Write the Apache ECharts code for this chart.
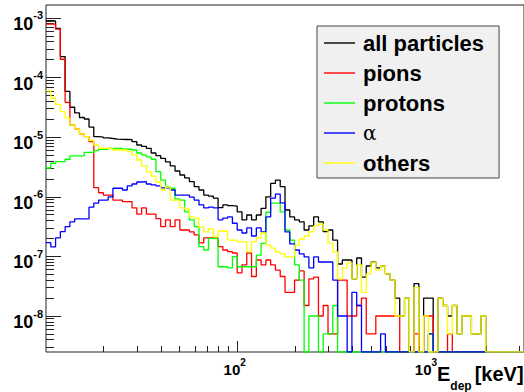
<!DOCTYPE html>
<html>
<head>
<meta charset="utf-8">
<script src="https://cdn.jsdelivr.net/npm/echarts@6/dist/echarts.min.js"></script>
<style>
  html, body { margin: 0; padding: 0; background: #ffffff; }
  #chart { width: 524px; height: 392px; }
</style>
</head>
<body>
<div id="chart"></div>
<script>
// Deposited-energy spectra: 100 logarithmic bins between 10 keV and 10^3.5 keV
const LOG_E_LO = 1;
const LOG_E_HI = 3.5;
const N_BINS = 100;
const binEdges = [];
for (let k = 0; k <= N_BINS; k++) {
  binEdges.push(Math.pow(10, LOG_E_LO + (LOG_E_HI - LOG_E_LO) * k / N_BINS));
}

// Bin contents per particle class (0 = empty bin)
const allParticles = [
  8.9e-4, 8.9e-4, 6.7e-4, 2.25e-4, 5.85e-5, 3.18e-5, 2.55e-5, 2.14e-5, 2.02e-5, 1.48e-5,
  1.02e-5, 1.0e-5, 9.7e-6, 9.5e-6, 9.3e-6, 9.2e-6, 9.15e-6, 9.1e-6, 8.4e-6, 7.4e-6,
  7.0e-6, 6.5e-6, 5.43e-6, 4.9e-6, 4.4e-6, 3.84e-6, 3.3e-6, 2.71e-6, 2.32e-6, 2.07e-6,
  1.79e-6, 1.48e-6, 1.3e-6, 1.07e-6, 1.03e-6, 9.5e-7, 6.6e-7, 7.3e-7, 7.1e-7, 7.0e-7,
  5.6e-7, 4.1e-7, 4.95e-7, 4.1e-7, 4.95e-7, 6.4e-7, 1.0e-6, 1.68e-6, 1.91e-6, 1.48e-6,
  6.0e-7, 4.6e-7, 4.1e-7, 3.8e-7, 2.77e-7, 3.24e-7, 4.6e-7, 3.8e-7, 2.6e-7, 2.77e-7,
  1.88e-7, 7.45e-8, 8.7e-8, 8.7e-8, 4.2e-8, 9.4e-8, 4.5e-8, 6.9e-8, 8.05e-8, 6.4e-8,
  6.9e-8, 5.1e-8, 4.0e-8, 2.0e-8, 1.0e-8, 2.0e-8, 0, 3.5e-8, 0, 2.0e-8,
  2.0e-8, 0, 2.0e-8, 1.5e-8, 1.0e-8, 1.5e-8, 5e-9, 1.0e-8, 1.0e-8, 5e-9,
  5e-9, 1.0e-8, 0, 0, 0, 0, 0, 0, 0, 0
];
const pions = [
  7.9e-4, 7.9e-4, 6.5e-4, 2.03e-4, 3.85e-5, 1.6e-5, 1.37e-5, 1.13e-5, 1.02e-5, 8.4e-6,
  1.42e-6, 1.17e-6, 1.07e-6, 1.07e-6, 8.8e-7, 8.8e-7, 8.3e-7, 8.3e-7, 6.5e-7, 5.1e-7,
  6.5e-7, 5.1e-7, 5.1e-7, 4.3e-7, 3.15e-7, 4.1e-7, 3.15e-7, 4.1e-7, 2.77e-7, 2.77e-7,
  2.57e-7, 2.29e-7, 1.68e-7, 2.04e-7, 2.04e-7, 2.04e-7, 1.46e-7, 1.28e-7, 1.2e-7, 1.14e-7,
  5.3e-8, 7.2e-8, 1.14e-7, 4.6e-8, 8.7e-8, 7.2e-8, 8.7e-8, 7.2e-8, 5.9e-8, 4.6e-8,
  2.5e-8, 2.5e-8, 4.0e-8, 5.7e-8, 1.5e-8, 4.2e-8, 4.5e-8, 1.0e-8, 1.5e-8, 5e-9,
  5e-9, 4.0e-8, 4.0e-8, 1.0e-8, 1.0e-8, 1.5e-8, 2.0e-8, 5e-9, 5e-9, 1.0e-8,
  1.0e-8, 1.0e-8, 1.0e-8, 1.0e-8, 0, 0, 0, 5e-9, 0, 1.0e-8,
  1.0e-8, 0, 0, 0, 5e-9, 0, 0, 0, 0, 0,
  0, 0, 0, 0, 0, 0, 0, 0, 0, 0
];
const protons = [
  3.04e-6, 3.65e-6, 3.88e-6, 3.88e-6, 4.26e-6, 4.84e-6, 4.84e-6, 4.84e-6, 5.58e-6, 5.58e-6,
  5.93e-6, 6.27e-6, 6.27e-6, 6.5e-6, 6.5e-6, 6.5e-6, 6.27e-6, 6.27e-6, 6.1e-6, 5.43e-6,
  5.03e-6, 4.66e-6, 4.26e-6, 2.64e-6, 1.91e-6, 1.48e-6, 1.39e-6, 9.2e-7, 8.8e-7, 5.6e-7,
  4.1e-7, 3.15e-7, 1.46e-7, 1.28e-7, 2.0e-7, 2.0e-7, 6.7e-8, 6.7e-8, 6.4e-8, 9.9e-8,
  6.7e-8, 6.7e-8, 6.7e-8, 6.7e-8, 1.05e-7, 1.66e-7, 5.5e-7, 7.8e-7, 7.8e-7, 5.6e-7,
  2.77e-7, 1.88e-7, 7.2e-8, 4.0e-8, 0, 1.0e-8, 1.0e-8, 0, 5e-9, 5e-9,
  1.5e-8, 0, 0, 0, 0, 0, 0, 0, 0, 0,
  0, 0, 0, 0, 0, 0, 0, 0, 0, 0,
  5e-9, 0, 0, 0, 0, 0, 0, 0, 0, 0,
  0, 0, 0, 0, 0, 0, 0, 0, 0, 0
];
const alphas = [
  1.7e-7, 1.44e-7, 2.04e-7, 2.6e-7, 3.15e-7, 3.8e-7, 4.25e-7, 4.25e-7, 4.25e-7, 6.7e-7,
  7.8e-7, 8.8e-7, 8.8e-7, 1.0e-6, 1.39e-6, 1.39e-6, 1.3e-6, 1.52e-6, 1.64e-6, 1.77e-6,
  1.79e-6, 1.64e-6, 1.58e-6, 1.52e-6, 1.41e-6, 1.41e-6, 1.3e-6, 1.07e-6, 1.07e-6, 1.07e-6,
  9.9e-7, 8.8e-7, 7.3e-7, 6.5e-7, 6.7e-7, 6.5e-7, 4.1e-7, 4.4e-7, 4.6e-7, 3.6e-7,
  2.77e-7, 2.47e-7, 3.0e-7, 2.2e-7, 3.0e-7, 2.57e-7, 4.6e-7, 9.5e-7, 1.11e-6, 7.9e-7,
  2.57e-7, 1.62e-7, 1.28e-7, 1.1e-7, 9.8e-8, 6.4e-8, 9.8e-8, 8.05e-8, 8.05e-8, 8.05e-8,
  4.0e-8, 1.0e-8, 1.0e-8, 0, 2.5e-8, 1.5e-8, 0, 0, 0, 0,
  5e-9, 0, 0, 0, 0, 0, 0, 0, 0, 0,
  5e-9, 0, 0, 0, 0, 0, 0, 0, 0, 0,
  0, 0, 0, 0, 0, 0, 0, 0, 0, 0
];
const others = [
  5.96e-5, 4.5e-5, 3.54e-5, 2.68e-5, 2.08e-5, 1.6e-5, 1.37e-5, 1.13e-5, 1.02e-5, 8.8e-6,
  7.4e-6, 6.5e-6, 6.5e-6, 6.34e-6, 6.1e-6, 6.1e-6, 6.1e-6, 5.71e-6, 5.03e-6, 4.14e-6,
  3.29e-6, 2.61e-6, 2.23e-6, 1.77e-6, 1.3e-6, 1.46e-6, 8.8e-7, 8.8e-7, 6.5e-7, 6.2e-7,
  4.6e-7, 4.4e-7, 3.1e-7, 2.57e-7, 2.9e-7, 2.12e-7, 2.67e-7, 2.67e-7, 1.88e-7, 1.88e-7,
  1.75e-7, 1.75e-7, 1.19e-7, 1.77e-7, 2.04e-7, 2.47e-7, 1.55e-7, 1.38e-7, 1.19e-7, 1.1e-7,
  9.8e-8, 9.8e-8, 1.55e-7, 1.96e-7, 2.2e-7, 2.57e-7, 3.24e-7, 3.5e-7, 2.77e-7, 1.68e-7,
  1.19e-7, 4.2e-8, 6.4e-8, 7.8e-8, 4.2e-8, 7.2e-8, 2.5e-8, 5.1e-8, 8.0e-8, 5.9e-8,
  6.9e-8, 5.1e-8, 4.0e-8, 1.0e-8, 1.0e-8, 2.0e-8, 0, 3.0e-8, 0, 1.0e-8,
  0, 0, 2.0e-8, 1.5e-8, 5e-9, 1.5e-8, 5e-9, 1.0e-8, 1.0e-8, 5e-9,
  5e-9, 1.0e-8, 0, 0, 0, 0, 0, 0, 0, 0
];

const seriesNames = ['all particles', 'pions', 'protons', '\u03b1', 'others'];
const seriesColors = ['#000000', '#ff0000', '#00ff00', '#0000ff', '#ffff00'];
const seriesValues = [allParticles, pions, protons, alphas, others];

// Axis ranges
const E_MIN = 10;
const E_MAX = Math.pow(10, 3.5);
const Y_MIN = 2.49e-9;
const Y_MAX = 1.65e-3;

// Tick positions: decades get long ticks, 2..9 within each decade short ones
const xMajorTicks = [100, 1000];
const yMajorTicks = [1e-8, 1e-7, 1e-6, 1e-5, 1e-4, 1e-3];
function minorTicks(lo, hi, expLo, expHi) {
  const out = [];
  for (let e = expLo; e <= expHi; e++) {
    for (let m = 2; m <= 9; m++) {
      const v = m * Math.pow(10, e);
      if (v > lo && v < hi) out.push(v);
    }
  }
  return out;
}
const xMinorTicks = minorTicks(E_MIN, E_MAX, 1, 3);
const yMinorTicks = minorTicks(Y_MIN, Y_MAX, -9, -3);

// Histogram outline: value of bin k held from its lower edge to the next edge
function stepData(values) {
  const pts = values.map((v, k) => [binEdges[k], v > 0 ? v : Y_MIN]);
  const last = values[values.length - 1];
  pts.push([binEdges[N_BINS], last > 0 ? last : Y_MIN]);
  return pts;
}

const FONT = 'Liberation Sans, Arial, Helvetica, sans-serif';
function powerRich(size, supSize) {
  return {
    b: { fontFamily: FONT, fontWeight: 'bold', fontSize: size, color: '#000', lineHeight: size + 5, verticalAlign: 'bottom' },
    s: { fontFamily: FONT, fontWeight: 'bold', fontSize: supSize, color: '#000', lineHeight: supSize, verticalAlign: 'top' }
  };
}
function powerLabel(v) {
  return '{b|10}{s|' + Math.round(Math.log10(v)) + '}';
}

const chart = echarts.init(document.getElementById('chart'), null, { renderer: 'svg' });

chart.setOption({
  animation: false,
  backgroundColor: '#ffffff',
  grid: {
    left: 46, top: 5, right: -2, bottom: 40,
    show: true, borderColor: '#222', borderWidth: 1, backgroundColor: 'transparent'
  },
  xAxis: [
    {
      type: 'log', logBase: 10, min: E_MIN, max: E_MAX, position: 'bottom',
      axisLine: { show: false },
      splitLine: { show: false },
      axisTick: { show: true, inside: true, length: 11, customValues: xMajorTicks,
                  lineStyle: { color: '#222', width: 1 } },
      axisLabel: { show: true, margin: 5, padding: [0, 0, 0, -5], customValues: xMajorTicks,
                   formatter: powerLabel, rich: powerRich(15, 10) }
    },
    {
      type: 'log', logBase: 10, min: E_MIN, max: E_MAX, position: 'bottom',
      axisLine: { show: false },
      splitLine: { show: false },
      axisTick: { show: true, inside: true, length: 6, customValues: xMinorTicks,
                  lineStyle: { color: '#222', width: 1 } },
      axisLabel: { show: false }
    }
  ],
  yAxis: [
    {
      type: 'log', logBase: 10, min: Y_MIN, max: Y_MAX, position: 'left',
      axisLine: { show: false },
      splitLine: { show: false },
      axisTick: { show: true, inside: true, length: 15, customValues: yMajorTicks,
                  lineStyle: { color: '#222', width: 1 } },
      axisLabel: { show: true, margin: 3, padding: [7, 0, 0, 0], customValues: yMajorTicks,
                   formatter: powerLabel, rich: powerRich(18, 11) }
    },
    {
      type: 'log', logBase: 10, min: Y_MIN, max: Y_MAX, position: 'left',
      axisLine: { show: false },
      splitLine: { show: false },
      axisTick: { show: true, inside: true, length: 8, customValues: yMinorTicks,
                  lineStyle: { color: '#222', width: 1 } },
      axisLabel: { show: false }
    }
  ],
  legend: {
    orient: 'vertical',
    left: 317, top: 26,
    padding: [6, 15, 4, 7],
    itemGap: 8,
    icon: 'rect',
    itemWidth: 31, itemHeight: 1.4,
    backgroundColor: '#f0f0f0',
    borderColor: '#444', borderWidth: 1,
    selectedMode: false,
    textStyle: { fontFamily: FONT, fontWeight: 'bold', fontSize: 22, color: '#000',
                 lineHeight: 22, padding: [0, 0, 0, 3] },
    data: seriesNames.map(n => n === '\u03b1'
      ? { name: n, textStyle: { fontFamily: 'DejaVu Serif, serif', fontWeight: 'normal', fontSize: 20 } }
      : { name: n })
  },
  graphic: [
    {
      type: 'text', left: 437, top: 364, silent: true,
      style: {
        text: '{e|E}{d|dep}{k|[keV]}',
        rich: {
          e: { fontFamily: FONT, fontWeight: 'bold', fontSize: 20, color: '#000', lineHeight: 22, verticalAlign: 'top' },
          k: { fontFamily: FONT, fontWeight: 'bold', fontSize: 20, color: '#000', lineHeight: 22, verticalAlign: 'top', padding: [0, 0, 0, 3] },
          d: { fontFamily: FONT, fontWeight: 'bold', fontSize: 12, color: '#000', lineHeight: 12, verticalAlign: 'bottom', padding: [0, 0, -6, 0] }
        }
      }
    }
  ],
  series: seriesValues.map((vals, i) => ({
    name: seriesNames[i],
    type: 'line',
    xAxisIndex: 0, yAxisIndex: 0,
    step: 'end',
    symbol: 'none',
    silent: true,
    clip: true,
    color: seriesColors[i],
    lineStyle: { color: seriesColors[i], width: 1.3 },
    data: stepData(vals)
  }))
});
</script>
</body>
</html>
